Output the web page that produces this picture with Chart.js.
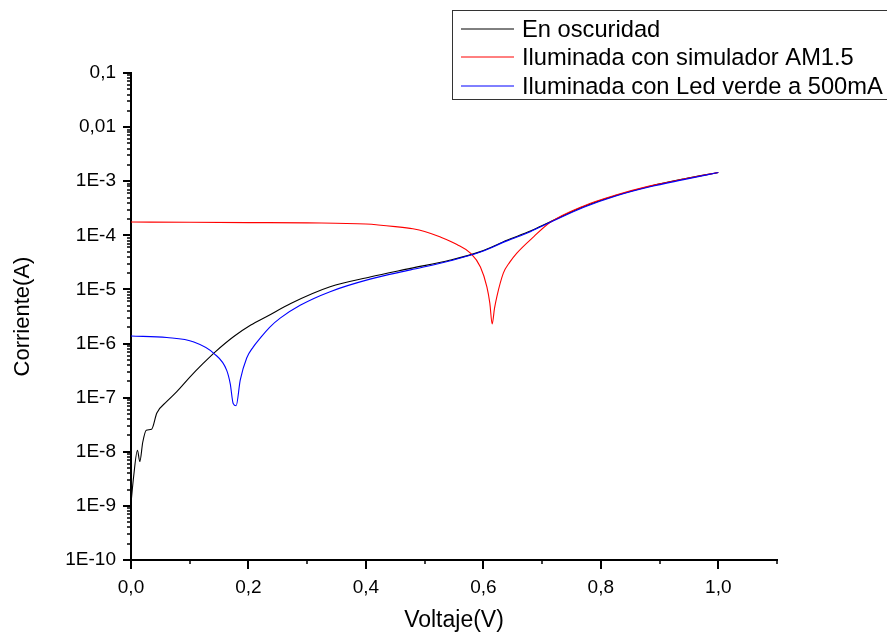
<!DOCTYPE html>
<html lang="es">
<head>
<meta charset="utf-8">
<title>Curvas I-V</title>
<script src="https://cdn.jsdelivr.net/npm/chart.js@4.4.1/dist/chart.umd.min.js"></script>
<style>
    html, body { margin: 0; padding: 0; background: #fff; }
</style>
</head>
<body>
<canvas id="ivChart" width="887" height="635"></canvas>
<script>
// series
const seriesLabels = [
    'En oscuridad',
    'Iluminada con simulador AM1.5',
    'Iluminada con Led verde a 500mA',
];
const seriesColors = ['#000000', '#ff0000', '#0000ff'];

// En oscuridad
const darkVoltage = [
    0, 0.0045, 0.011, 0.015, 0.020, 0.026, 0.035, 0.044, 0.061, 0.078,
    0.101, 0.122, 0.144, 0.175, 0.204, 0.232, 0.272, 0.339, 0.407, 0.476,
    0.544, 0.595, 0.640, 0.680, 0.714, 0.771, 0.827, 0.884, 0.941, 1.0,
];
const darkCurrent = [
    1.12e-9, 3.5e-9, 1.07e-8, 6.6e-9, 1.5e-8, 2.5e-8, 2.6e-8, 5.2e-8, 8.5e-8, 1.29e-7,
    2.45e-7, 4.2e-7, 7.1e-7, 1.35e-6, 2.2e-6, 3.2e-6, 5.5e-6, 1.12e-5, 1.7e-5, 2.45e-5,
    3.5e-5, 5.0e-5, 8.1e-5, 1.2e-4, 1.78e-4, 3.4e-4, 5.5e-4, 8.1e-4, 1.1e-3, 1.45e-3,
];

// simulador AM1.5
const am15Voltage = [
    0, 0.1, 0.2, 0.3, 0.4, 0.45, 0.48, 0.5, 0.527, 0.555,
    0.578, 0.595, 0.606, 0.611, 0.615, 0.619, 0.623, 0.634, 0.645, 0.657,
    0.686, 0.714, 0.771, 0.827, 0.884, 0.941, 1.0,
];
const am15Current = [
    1.76e-4, 1.74e-4, 1.72e-4, 1.70e-4, 1.62e-4, 1.45e-4, 1.32e-4, 1.18e-4, 9.3e-5, 6.8e-5,
    4.7e-5, 2.6e-5, 1.12e-5, 5.6e-6, 2.3e-6, 4.5e-6, 7.4e-6, 2.0e-5, 3.2e-5, 4.7e-5,
    9.5e-5, 1.74e-4, 3.5e-4, 5.6e-4, 8.2e-4, 1.1e-3, 1.45e-3,
];

// Led verde 500mA
const ledVoltage = [
    0, 0.061, 0.107, 0.141, 0.163, 0.169, 0.174, 0.179, 0.186, 0.197,
    0.208, 0.220, 0.236, 0.254, 0.288, 0.339, 0.407, 0.476, 0.544, 0.595,
    0.640, 0.680, 0.714, 0.771, 0.827, 0.884, 0.941, 1.0,
];
const ledCurrent = [
    1.38e-6, 1.29e-6, 1.07e-6, 6.6e-7, 3.2e-7, 1.8e-7, 7.8e-8, 7.1e-8, 2.1e-7, 5.4e-7,
    8.6e-7, 1.26e-6, 2.0e-6, 2.95e-6, 5.1e-6, 9.1e-6, 1.55e-5, 2.3e-5, 3.4e-5, 4.9e-5,
    7.9e-5, 1.17e-4, 1.74e-4, 3.3e-4, 5.4e-4, 7.9e-4, 1.07e-3, 1.45e-3,
];

// ejes
const xTickValues = [0, 0.1, 0.2, 0.3, 0.4, 0.5, 0.6, 0.7, 0.8, 0.9, 1.0, 1.1];
const xMajorValues = [0, 0.2, 0.4, 0.6, 0.8, 1.0];
const xTickLabels = ['0,0', '0,2', '0,4', '0,6', '0,8', '1,0'];
const yMajorValues = [1e-10, 1e-9, 1e-8, 1e-7, 1e-6, 1e-5, 1e-4, 1e-3, 1e-2, 1e-1];
const yTickLabels = ['1E-10', '1E-9', '1E-8', '1E-7', '1E-6', '1E-5', '1E-4', '1E-3', '0,01', '0,1'];

const FONT = 'Arial, "Liberation Sans", sans-serif';
const toPoints = (vs, is) => vs.map((v, i) => ({ x: v, y: is[i] }));
const near = (a, b) => Math.abs(a - b) < 1e-9;
const nearLog = (a, b) => Math.abs(Math.log10(a) - Math.log10(b)) < 1e-6;

// marcas de los ejes (mayores largas, menores cortas)
const tickMarks = {
    id: 'tickMarks',
    afterDraw(chart) {
        const { ctx, chartArea, scales: { x, y } } = chart;
        ctx.save();
        ctx.strokeStyle = '#000';
        y.ticks.forEach((t) => {
            const py = Math.round(y.getPixelForValue(t.value));
            ctx.lineWidth = t.major ? 2 : 1.5;
            ctx.beginPath();
            ctx.moveTo(chartArea.left, py);
            ctx.lineTo(chartArea.left - (t.major ? 8 : 4), py);
            ctx.stroke();
        });
        x.ticks.forEach((t) => {
            const px = Math.round(x.getPixelForValue(t.value));
            ctx.lineWidth = t.major ? 2 : 1.5;
            ctx.beginPath();
            ctx.moveTo(px, chartArea.bottom);
            ctx.lineTo(px, chartArea.bottom + (t.major ? 9 : 4));
            ctx.stroke();
        });
        ctx.restore();
    },
};

// leyenda con recuadro
const boxLegend = {
    id: 'boxLegend',
    afterDraw(chart) {
        const { ctx } = chart;
        ctx.save();
        ctx.strokeStyle = '#333';
        ctx.lineWidth = 1;
        ctx.strokeRect(452.5, 10.5, 440, 89);
        ctx.font = '23.7px ' + FONT;
        ctx.textBaseline = 'middle';
        ctx.fillStyle = '#000';
        const rows = [29, 57, 86];
        chart.data.datasets.forEach((ds, i) => {
            ctx.strokeStyle = ds.borderColor;
            ctx.beginPath();
            ctx.moveTo(461, rows[i]);
            ctx.lineTo(514, rows[i]);
            ctx.stroke();
            ctx.fillText(ds.label, 522, rows[i] + 1);
        });
        ctx.restore();
    },
};

const ctx = document.getElementById('ivChart').getContext('2d');
new Chart(ctx, {
    type: 'line',
    data: {
        datasets: [
            { label: seriesLabels[0], data: toPoints(darkVoltage, darkCurrent), borderColor: seriesColors[0], order: 3 },
            { label: seriesLabels[1], data: toPoints(am15Voltage, am15Current), borderColor: seriesColors[1], order: 2 },
            { label: seriesLabels[2], data: toPoints(ledVoltage, ledCurrent), borderColor: seriesColors[2], order: 1 },
        ].map((d) => Object.assign(d, {
            borderWidth: 1.1,
            pointRadius: 0,
            fill: false,
            cubicInterpolationMode: 'monotone',
        })),
    },
    options: {
        responsive: false,
        animation: false,
        layout: { padding: { top: 73, right: 110, left: 0, bottom: 0 } },
        plugins: {
            legend: { display: false },
            tooltip: { enabled: false },
        },
        scales: {
            x: {
                type: 'linear',
                min: 0,
                max: 1.1,
                afterFit(scale) { scale.height = 75; },
                afterBuildTicks(scale) {
                    scale.ticks = xTickValues.map((v) => ({ value: v, major: xMajorValues.some((m) => near(m, v)) }));
                },
                grid: { display: false, drawTicks: false },
                border: { display: true, color: '#000', width: 2 },
                ticks: {
                    autoSkip: false,
                    maxRotation: 0,
                    padding: 16,
                    color: '#000',
                    font: { family: FONT, size: 19 },
                    callback(value) {
                        const k = xMajorValues.findIndex((m) => near(m, value));
                        return k >= 0 ? xTickLabels[k] : '';
                    },
                },
                title: {
                    display: true,
                    text: 'Voltaje(V)',
                    color: '#000',
                    font: { family: FONT, size: 23 },
                    padding: { top: 0, bottom: 1 },
                },
            },
            y: {
                type: 'logarithmic',
                min: 1e-10,
                max: 0.1,
                afterFit(scale) { scale.width = 131; },
                afterBuildTicks(scale) {
                    const ticks = [];
                    yMajorValues.forEach((base, i) => {
                        if (i === yMajorValues.length - 1) {
                            ticks.push({ value: base, major: true });
                            return;
                        }
                        for (let m = 1; m <= 9; m++) ticks.push({ value: base * m, major: m === 1 });
                    });
                    scale.ticks = ticks;
                },
                grid: { display: false, drawTicks: false },
                border: { display: true, color: '#000', width: 2 },
                ticks: {
                    autoSkip: false,
                    padding: 15,
                    color: '#000',
                    font: { family: FONT, size: 19 },
                    callback(value) {
                        const k = yMajorValues.findIndex((m) => nearLog(m, value));
                        return k >= 0 ? yTickLabels[k] : '';
                    },
                },
                title: {
                    display: true,
                    text: 'Corriente(A)',
                    color: '#000',
                    font: { family: FONT, size: 22 },
                    padding: { top: 10, bottom: 0 },
                },
            },
        },
    },
    plugins: [tickMarks, boxLegend],
});
</script>
</body>
</html>
